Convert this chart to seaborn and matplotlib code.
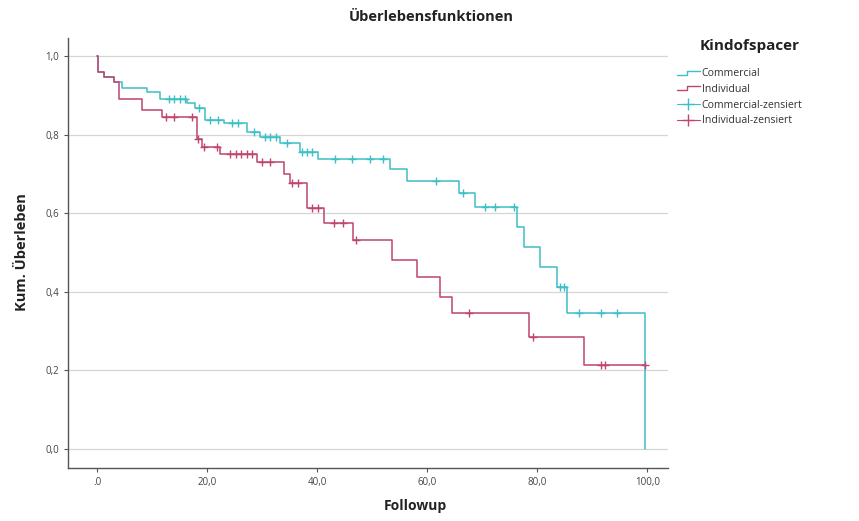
import numpy as np
import pandas as pd
import matplotlib
matplotlib.use("Agg")
import matplotlib.pyplot as plt
from matplotlib.lines import Line2D
from matplotlib.legend_handler import HandlerBase
import seaborn as sns

# Kaplan-Meier steps
comm_times = [0, 0.2, 1.2, 3.0, 4.5, 9.0, 11.5, 16.3, 17.8, 19.6, 23.0, 27.2, 29.6,
              33.3, 36.9, 40.2, 53.3, 56.3, 65.7, 68.7, 76.3, 77.5, 80.5, 83.6, 85.4, 99.5]
comm_surv = [1.0, 0.96, 0.947, 0.935, 0.918, 0.909, 0.892, 0.88, 0.867, 0.837, 0.829, 0.807, 0.795,
             0.778, 0.757, 0.737, 0.712, 0.682, 0.652, 0.615, 0.566, 0.515, 0.464, 0.413, 0.345, 0.0]
comm_censored = [13, 14, 15, 16, 18.5, 20.5, 22.0, 24.5, 25.6, 28.5, 30.5, 31.5, 32.5, 34.5,
                 37.2, 38.1, 39.0, 43.3, 46.3, 49.6, 52.0, 61.5, 66.5, 70.5, 72.4, 75.7,
                 84.2, 84.8, 87.5, 91.5, 94.5]

ind_times = [0, 0.2, 1.2, 3.0, 4.0, 8.1, 11.8, 18.1, 19.0, 22.4, 29.0, 33.9, 35.1, 38.1,
             41.2, 46.6, 53.6, 58.1, 62.4, 64.5, 78.4, 88.4, 99.5]
ind_surv = [1.0, 0.96, 0.947, 0.935, 0.892, 0.863, 0.846, 0.79, 0.769, 0.752, 0.731, 0.701, 0.676, 0.613,
            0.574, 0.532, 0.481, 0.438, 0.388, 0.345, 0.286, 0.214, 0.214]
ind_censored = [12.5, 14.0, 17.3, 18.4, 19.5, 21.8, 24.2, 25.2, 26.2, 27.2, 28.2, 30.0, 31.5,
                35.5, 36.5, 39.0, 40.2, 43.0, 44.7, 47.0, 67.5, 79.3, 91.5, 92.3, 99.5]

groups = ["Commercial", "Individual"]
colors = {"Commercial": "#3dbfc6", "Individual": "#bf4470"}
legend_labels = ["Commercial", "Individual", "Commercial-zensiert", "Individual-zensiert"]
x_ticks = [0, 20, 40, 60, 80, 100]
x_labels = [".0", "20,0", "40,0", "60,0", "80,0", "100,0"]
y_ticks = [0.0, 0.2, 0.4, 0.6, 0.8, 1.0]
y_labels = ["0,0", "0,2", "0,4", "0,6", "0,8", "1,0"]


def surv_at(times, surv, t):
    i = np.searchsorted(times, t, side="right") - 1
    return surv[i]


lines = pd.concat([
    pd.DataFrame({"time": comm_times, "surv": comm_surv, "group": "Commercial"}),
    pd.DataFrame({"time": ind_times, "surv": ind_surv, "group": "Individual"}),
])
cens = pd.concat([
    pd.DataFrame({"time": comm_censored,
                  "surv": [surv_at(comm_times, comm_surv, t) for t in comm_censored],
                  "group": "Commercial"}),
    pd.DataFrame({"time": ind_censored,
                  "surv": [surv_at(ind_times, ind_surv, t) for t in ind_censored],
                  "group": "Individual"}),
])

sns.set_style("white")
plt.rcParams["font.family"] = ["Open Sans", "DejaVu Sans"]

fig = plt.figure(figsize=(8.59, 5.21), dpi=100)
ax = fig.add_axes([0.079, 0.102, 0.699, 0.825])

for y in y_ticks:
    ax.axhline(y, color="#d6d6d6", linewidth=0.9, zorder=0)

for g in groups:
    sub = lines[lines.group == g]
    sns.lineplot(data=sub, x="time", y="surv", color=colors[g], drawstyle="steps-post",
                 estimator=None, sort=False, linewidth=1.1, ax=ax, legend=False)
    csub = cens[cens.group == g]
    sns.scatterplot(data=csub, x="time", y="surv", color=colors[g], marker="+",
                    s=28, linewidth=1.0, ax=ax, legend=False, zorder=3)

ax.set_xlim(-5.3, 103.8)
ax.set_ylim(-0.048, 1.046)
ax.set_xticks(x_ticks)
ax.set_xticklabels(x_labels)
ax.set_yticks(y_ticks)
ax.set_yticklabels(y_labels)
ax.tick_params(axis="both", labelsize=7, colors="#555555", length=3, direction="out",
               labelcolor="#444444")
ax.xaxis.set_ticks_position("bottom")
ax.yaxis.set_ticks_position("left")
for s in ["top", "right"]:
    ax.spines[s].set_visible(False)
for s in ["left", "bottom"]:
    ax.spines[s].set_color("#555555")
    ax.spines[s].set_linewidth(1.0)
ax.set_xlabel("")
ax.set_ylabel("")

fig.text(0.502, 1 - 17 / 521, "Überlebensfunktionen", ha="center", va="center",
         fontsize=10.5, fontweight="bold", color="#222222")
fig.text(0.483, 1 - 506 / 521, "Followup", ha="center", va="center",
         fontsize=10, fontweight="bold", color="#222222")
fig.text(0.026, 1 - 252 / 521, "Kum. Überleben", ha="center", va="center", rotation=90,
         fontsize=10.5, fontweight="bold", color="#222222")


# small step glyph for the survival lines in the legend
class StepHandler(HandlerBase):
    def create_artists(self, legend, orig, xd, yd, w, h, fontsize, trans):
        xs = [xd, xd + w * 0.45, xd + w * 0.45, xd + w]
        ys = [yd + h * 0.2, yd + h * 0.2, yd + h * 0.75, yd + h * 0.75]
        ln = Line2D(xs, ys, color=orig.get_color(), linewidth=1.0, drawstyle="steps-post",
                    transform=trans)
        return [ln]


h_lines = [Line2D([], [], color=colors[g]) for g in groups]
h_cens = [Line2D([], [], color=colors[g], marker="+", linestyle="-", linewidth=0.8,
                 markersize=8) for g in groups]
leg = fig.legend(h_lines + h_cens, legend_labels,
                 handler_map={h_lines[0]: StepHandler(), h_lines[1]: StepHandler()},
                 loc="upper left", bbox_to_anchor=(0.783, 1 - 64 / 521), frameon=False,
                 fontsize=7.6, handlelength=2.2, handletextpad=0.15,
                 labelspacing=0.45, borderaxespad=0)
for t in leg.get_texts():
    t.set_color("#333333")

# legend title sits over the entry texts, not over the handles
fig.text(700 / 859, 1 - 46 / 521, "Kindofspacer", ha="left", va="center",
         fontsize=11, fontweight="bold", color="#222222")

fig.savefig("out.png", dpi=100)
